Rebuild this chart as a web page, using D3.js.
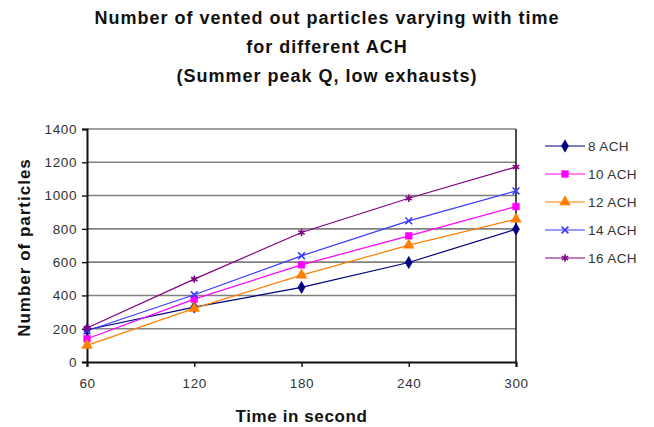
<!DOCTYPE html>
<html>
<head>
<meta charset="utf-8">
<script src="https://cdn.jsdelivr.net/npm/d3@7"></script>
<style>
  html, body { margin: 0; padding: 0; background: #fff; }
  svg { display: block; font-family: "Liberation Sans", Arial, sans-serif; }
</style>
</head>
<body>
<svg id="chart" width="654" height="427"></svg>
<script>
// Time steps (seconds)
const times = [60, 120, 180, 240, 300];
const timeTicks = [60, 120, 180, 240, 300];
const countTicks = [0, 200, 400, 600, 800, 1000, 1200, 1400];

// Vented-out particle counts per ACH setting
const ach8  = [194, 330, 448, 598, 798];
const ach10 = [140, 378, 584, 758, 934];
const ach12 = [100, 322, 522, 702, 858];
const ach14 = [188, 404, 638, 848, 1028];
const ach16 = [204, 498, 778, 984, 1172];

const seriesNames = ["8 ACH", "10 ACH", "12 ACH", "14 ACH", "16 ACH"];
const seriesValues = [ach8, ach10, ach12, ach14, ach16];
const seriesColors = ["#000080", "#ff00ff", "#ff7f00", "#3a3aff", "#800080"];
const seriesSymbols = ["diamond", "square", "triangle", "cross", "star"];

const titleLines = [
  "Number of vented out particles varying with time",
  "for different ACH",
  "(Summer peak Q, low exhausts)"
];

const svg = d3.select("#chart");
const plot = { left: 87, right: 516, top: 129, bottom: 362 };

const x = d3.scaleLinear().domain([60, 300]).range([plot.left, plot.right]);
const y = d3.scaleLinear().domain([0, 1400]).range([plot.bottom, plot.top]);

// Title
svg.append("g").selectAll("text")
  .data(titleLines)
  .join("text")
  .attr("x", 327)
  .attr("y", (d, i) => 24 + i * 29)
  .attr("text-anchor", "middle")
  .attr("font-size", 18)
  .attr("font-weight", "bold")
  .attr("letter-spacing", 1)
  .attr("fill", "#111")
  .text(d => d);

// Horizontal gridlines
svg.append("g").selectAll("line")
  .data(countTicks.filter(t => t > 0))
  .join("line")
  .attr("x1", plot.left).attr("x2", plot.right)
  .attr("y1", d => y(d)).attr("y2", d => y(d))
  .attr("stroke", "#808080")
  .attr("stroke-width", 1.6);

// Right border
svg.append("line")
  .attr("x1", plot.right).attr("x2", plot.right)
  .attr("y1", plot.top).attr("y2", plot.bottom)
  .attr("stroke", "#222").attr("stroke-width", 1.6);

// Axes
const xAxis = d3.axisBottom(x).tickValues(timeTicks).tickSize(5).tickPadding(11).tickFormat(d3.format("d"));
const yAxis = d3.axisLeft(y).tickValues(countTicks).tickSize(5).tickPadding(5).tickFormat(d3.format("d"));

const gx = svg.append("g").attr("transform", `translate(0,${plot.bottom})`).call(xAxis);
const gy = svg.append("g").attr("transform", `translate(${plot.left},0)`).call(yAxis);

[gx, gy].forEach(g => {
  g.select(".domain").attr("stroke", "#111").attr("stroke-width", 2);
  g.selectAll(".tick line").attr("stroke", "#111").attr("stroke-width", 1.4);
  g.selectAll(".tick text")
    .attr("font-family", "'Liberation Sans', Arial, sans-serif")
    .attr("font-size", 13.5)
    .attr("letter-spacing", 0.6)
    .attr("fill", "#333");
});
gy.selectAll(".tick line").attr("x2", 0).attr("x1", -5);

// Axis titles
svg.append("text")
  .attr("x", (plot.left + plot.right) / 2)
  .attr("y", 422)
  .attr("text-anchor", "middle")
  .attr("font-size", 17)
  .attr("font-weight", "bold")
  .attr("letter-spacing", 0.6)
  .attr("fill", "#111")
  .text("Time in second");

svg.append("text")
  .attr("transform", `translate(30,${(plot.top + plot.bottom) / 2 + 2}) rotate(-90)`)
  .attr("text-anchor", "middle")
  .attr("font-size", 17)
  .attr("font-weight", "bold")
  .attr("letter-spacing", 1)
  .attr("fill", "#111")
  .text("Number of particles");

// Marker shapes
function marker(sel, type, color) {
  const sym = {
    diamond: d3.symbolDiamond,
    square: d3.symbolSquare,
    triangle: d3.symbolTriangle,
    cross: d3.symbolTimes,
    star: d3.symbolAsterisk
  }[type];
  const size = { diamond: 44, square: 46, triangle: 50, cross: 32, star: 38 }[type];
  const stroked = type === "cross" || type === "star";
  sel.attr("d", d3.symbol(sym, size)())
    .attr("fill", stroked ? "none" : color)
    .attr("stroke", color)
    .attr("stroke-width", stroked ? 1.6 : 0.5);
}

// Series lines and markers
const line = d3.line()
  .x((d, i) => x(times[i]))
  .y(d => y(d));

const series = svg.append("g").selectAll("g")
  .data(seriesValues.map((v, i) => ({ values: v, color: seriesColors[i], symbol: seriesSymbols[i] })))
  .join("g");

series.append("path")
  .attr("d", d => line(d.values))
  .attr("fill", "none")
  .attr("stroke", d => d.color)
  .attr("stroke-width", 1.2);

series.each(function (s) {
  d3.select(this).selectAll("path.pt")
    .data(s.values)
    .join("path")
    .attr("class", "pt")
    .attr("transform", (d, i) => `translate(${x(times[i])},${y(d)})`)
    .call(marker, s.symbol, s.color);
});

// Legend
const legend = svg.append("g").selectAll("g")
  .data(seriesNames.map((n, i) => ({ name: n, color: seriesColors[i], symbol: seriesSymbols[i] })))
  .join("g")
  .attr("transform", (d, i) => `translate(545,${146 + i * 28})`);

legend.append("line")
  .attr("x1", 0).attr("x2", 40)
  .attr("stroke", d => d.color)
  .attr("stroke-width", 1.2);

legend.append("path")
  .attr("transform", "translate(20,0)")
  .each(function (d) { d3.select(this).call(marker, d.symbol, d.color); });

legend.append("text")
  .attr("x", 43)
  .attr("y", 5)
  .attr("font-size", 13.5)
  .attr("letter-spacing", 0.4)
  .attr("fill", "#333")
  .text(d => d.name);
</script>
</body>
</html>
